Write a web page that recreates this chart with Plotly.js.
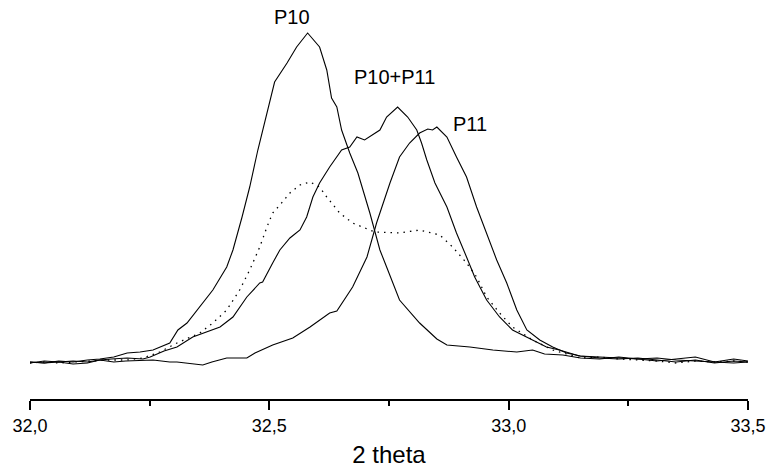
<!DOCTYPE html>
<html>
<head>
<meta charset="utf-8">
<script src="https://cdn.plot.ly/plotly-3.0.1.min.js"></script>
<style>html,body{margin:0;padding:0;background:#fff;}#chart{width:768px;height:474px;}</style>
</head>
<body>
<div id="chart"></div>
<script>
// 2 theta (degrees) and intensity (arbitrary units)
const p10X = [32.000,32.030,32.060,32.090,32.120,32.146,32.175,32.203,32.230,32.257,32.292,32.309,32.328,32.355,32.382,32.411,32.424,32.443,32.459,32.476,32.495,32.511,32.537,32.557,32.580,32.605,32.620,32.630,32.641,32.651,32.668,32.685,32.710,32.731,32.745,32.772,32.814,32.850,32.871,32.919,32.967,33.017,33.050,33.075,33.113,33.150,33.190,33.230,33.270,33.310,33.350,33.390,33.430,33.470,33.500];
const p10Y = [37,36,38,37,39,40,42,46,47,49,56,69,76,92,109,132,149,182,212,249,286,317,336,352,366,352,329,301,292,269,246,226,186,149,132,99,76,60,54,52,49,47,49,45,44,41,40,42,40,38,40,42,37,40,38];

const mixX = [32.000,32.030,32.060,32.090,32.120,32.146,32.170,32.203,32.236,32.251,32.280,32.307,32.340,32.370,32.397,32.424,32.453,32.480,32.486,32.507,32.522,32.543,32.564,32.578,32.591,32.605,32.626,32.651,32.668,32.683,32.699,32.731,32.745,32.768,32.789,32.808,32.818,32.829,32.846,32.871,32.891,32.912,32.929,32.954,32.981,33.008,33.038,33.079,33.106,33.148,33.190,33.230,33.270,33.310,33.350,33.390,33.430,33.470,33.500];
const mixY = [36,38,37,38,37,39,40,41,40,42,48,52,62,67,72,82,102,116,117,136,149,161,169,182,202,216,232,249,252,262,259,269,282,292,282,269,256,239,216,192,166,142,122,99,82,69,62,52,49,43,42,41,40,41,39,38,37,36,37];

const p11X = [32.000,32.030,32.060,32.090,32.120,32.146,32.175,32.200,32.257,32.292,32.307,32.340,32.361,32.380,32.411,32.453,32.470,32.507,32.549,32.585,32.626,32.641,32.674,32.704,32.724,32.752,32.772,32.793,32.814,32.831,32.841,32.850,32.871,32.891,32.912,32.933,32.954,32.975,32.996,33.017,33.038,33.065,33.092,33.121,33.150,33.190,33.230,33.270,33.310,33.350,33.390,33.430,33.470,33.500];
const p11Y = [37,36,37,35,36,39,37,38,39,37,37,35,34,37,41,41,46,54,61,72,86,88,112,142,176,216,242,256,266,270,269,272,262,242,222,192,166,139,116,89,69,59,52,46,43,41,40,41,39,37,39,36,38,37];

const dotX = [32.000,32.030,32.060,32.090,32.120,32.161,32.203,32.236,32.271,32.307,32.355,32.382,32.411,32.438,32.459,32.480,32.495,32.507,32.522,32.543,32.564,32.585,32.605,32.620,32.647,32.674,32.720,32.772,32.814,32.856,32.883,32.912,32.933,32.954,32.981,33.008,33.050,33.092,33.121,33.150,33.190,33.230,33.270,33.310,33.350,33.390,33.430,33.470,33.500];
const dotY = [36,37,36,37,38,39,39,41,47,56,66,76,89,109,129,152,172,186,194,206,214,217,212,202,186,176,167,166,169,164,152,136,122,102,86,72,59,49,45,41,42,40,39,38,36,38,37,38,37];

const tickVals = [32.0, 32.5, 33.0, 33.5];
const tickText = ["32,0", "32,5", "33,0", "33,5"];
const labelText = ["P10", "P10+P11", "P11"];
const labelX = [32.547, 32.762, 32.919];
const labelY = [382, 322, 275];

const font = "Arial, 'Liberation Sans', sans-serif";
const solid = {color: "#000", width: 1.1};

const traces = [
  {x: p10X, y: p10Y, mode: "lines", line: solid, name: "P10"},
  {x: mixX, y: mixY, mode: "lines", line: solid, name: "P10+P11"},
  {x: p11X, y: p11Y, mode: "lines", line: solid, name: "P11"},
  {x: dotX, y: dotY, mode: "lines", line: {color: "#000", width: 1.3, dash: "1.5px,5px"}, name: "dotted"}
];

const annotations = labelText.map((t, i) => ({
  x: labelX[i], y: labelY[i], xref: "x", yref: "y", text: t, showarrow: false,
  font: {family: font, size: 20, color: "#000"}
}));

const layout = {
  width: 768, height: 474,
  margin: {l: 30, r: 20, t: 0, b: 75},
  paper_bgcolor: "#fff", plot_bgcolor: "#fff",
  showlegend: false,
  font: {family: font, color: "#000"},
  xaxis: {
    range: [32.0, 33.5], showgrid: false, zeroline: false,
    showline: true, linecolor: "#000", linewidth: 2,
    ticks: "outside", ticklen: 9, tickwidth: 2, tickcolor: "#000",
    tickmode: "array", tickvals: tickVals, ticktext: tickText,
    tickfont: {family: font, size: 18, color: "#000"},
    minor: {tickmode: "array", tickvals: [32.25, 32.75, 33.25], ticks: "outside", ticklen: 5, tickwidth: 2, tickcolor: "#000", showgrid: false},
    title: {text: "2 theta", font: {family: font, size: 24, color: "#000"}, standoff: 12}
  },
  yaxis: {range: [0, 399], visible: false, showgrid: false, zeroline: false, fixedrange: true},
  annotations: annotations
};

Plotly.newPlot("chart", traces, layout, {displayModeBar: false, staticPlot: true});
</script>
</body>
</html>
